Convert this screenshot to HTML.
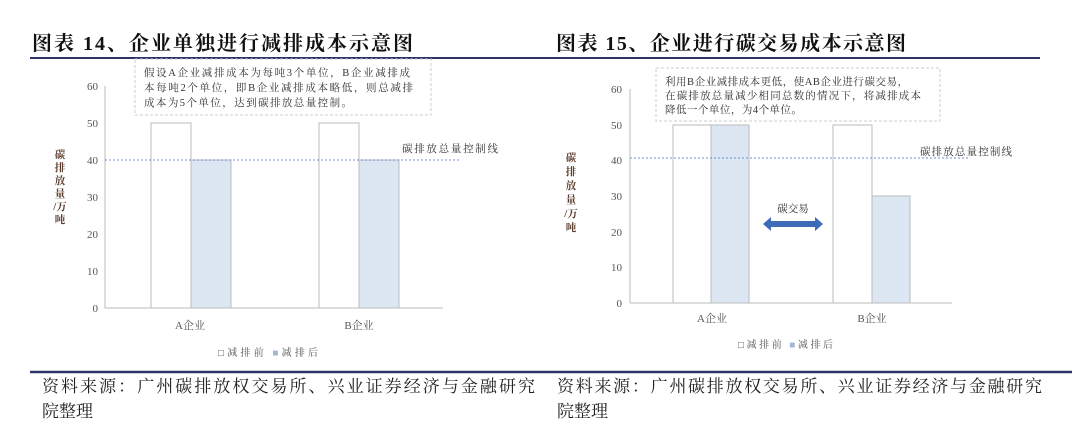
<!DOCTYPE html>
<html><head><meta charset="utf-8"><style>
body{margin:0;background:#fff;}
svg text{font-family:"Liberation Serif","Noto Serif CJK SC",serif;}
</style></head><body>
<svg width="1080" height="441" viewBox="0 0 1080 441" xmlns="http://www.w3.org/2000/svg">
<g font-weight="bold" font-size="20" fill="#111">
<text x="32" y="50" textLength="381" lengthAdjust="spacing">图表 14、企业单独进行减排成本示意图</text>
<text x="556" y="50" textLength="350" lengthAdjust="spacing">图表 15、企业进行碳交易成本示意图</text>
</g>
<line x1="30" y1="58" x2="1040" y2="58" stroke="#2e3468" stroke-width="2"/>
<line x1="30" y1="372" x2="1072" y2="372" stroke="#2e3468" stroke-width="2.5"/>
<g font-size="17" fill="#222">
<text x="42" y="392" textLength="493" lengthAdjust="spacing">资料来源：广州碳排放权交易所、兴业证券经济与金融研究</text>
<text x="42" y="417">院整理</text>
<text x="557" y="392" textLength="485" lengthAdjust="spacing">资料来源：广州碳排放权交易所、兴业证券经济与金融研究</text>
<text x="557" y="417">院整理</text>
</g>
<!-- left chart -->
<g font-size="11" fill="#555">
<line x1="105" y1="86" x2="105" y2="308" stroke="#bbb"/>
<line x1="105" y1="308" x2="443" y2="308" stroke="#bbb"/>
<g text-anchor="end">
<text x="98" y="312">0</text><text x="98" y="275">10</text><text x="98" y="238">20</text>
<text x="98" y="201">30</text><text x="98" y="164">40</text><text x="98" y="127">50</text><text x="98" y="90">60</text>
</g>
<rect x="151" y="123" width="40" height="185" fill="#fff" stroke="#bbb"/>
<rect x="191" y="160" width="40" height="148" fill="#dce7f3" stroke="#bbb"/>
<rect x="319" y="123" width="40" height="185" fill="#fff" stroke="#bbb"/>
<rect x="359" y="160" width="40" height="148" fill="#dce7f3" stroke="#bbb"/>
<line x1="105" y1="160" x2="459" y2="160" stroke="#6f8fd0" stroke-dasharray="2,2"/>
<text x="402" y="152" font-size="10.5" fill="#333" textLength="96" lengthAdjust="spacing">碳排放总量控制线</text>
<rect x="135" y="59" width="296" height="56" fill="none" stroke="#ccc" stroke-dasharray="3,2"/>
<g font-size="10.5" fill="#333">
<text x="144" y="76" textLength="266" lengthAdjust="spacing">假设A企业减排成本为每吨3个单位，B企业减排成</text>
<text x="144" y="91" textLength="269" lengthAdjust="spacing">本每吨2个单位，即B企业减排成本略低，则总减排</text>
<text x="144" y="106" textLength="208" lengthAdjust="spacing">成本为5个单位，达到碳排放总量控制。</text>
</g>
<g font-size="10.5" fill="#5a3a2a" text-anchor="middle" font-weight="bold">
<text x="60" y="158">碳</text><text x="60" y="171">排</text><text x="60" y="184">放</text><text x="60" y="197">量</text><text x="60" y="210">/万</text><text x="60" y="223">吨</text>
</g>
<text x="190" y="329" text-anchor="middle">A企业</text>
<text x="359" y="329" text-anchor="middle">B企业</text>
<text x="218" y="356" font-size="10" textLength="100" lengthAdjust="spacing">□减排前 <tspan fill="#9fb7d6">■</tspan>减排后</text>
</g>
<!-- right chart -->
<g font-size="11" fill="#555">
<line x1="630" y1="89" x2="630" y2="303" stroke="#bbb"/>
<line x1="630" y1="303" x2="952" y2="303" stroke="#bbb"/>
<g text-anchor="end">
<text x="622" y="307">0</text><text x="622" y="271">10</text><text x="622" y="236">20</text>
<text x="622" y="200">30</text><text x="622" y="164">40</text><text x="622" y="129">50</text><text x="622" y="93">60</text>
</g>
<rect x="673" y="125" width="38" height="178" fill="#fff" stroke="#bbb"/>
<rect x="711" y="125" width="38" height="178" fill="#dce7f3" stroke="#bbb"/>
<rect x="833" y="125" width="39" height="178" fill="#fff" stroke="#bbb"/>
<rect x="872" y="196" width="38" height="107" fill="#dce7f3" stroke="#bbb"/>
<line x1="630" y1="158" x2="970" y2="158" stroke="#6f8fd0" stroke-dasharray="2,2"/>
<text x="920" y="155" font-size="10.5" fill="#333" textLength="92" lengthAdjust="spacing">碳排放总量控制线</text>
<rect x="656" y="68" width="284" height="53" fill="none" stroke="#ccc" stroke-dasharray="3,2"/>
<g font-size="10.5" fill="#333">
<text x="665" y="85" textLength="243" lengthAdjust="spacing">利用B企业减排成本更低，使AB企业进行碳交易，</text>
<text x="665" y="99" textLength="256" lengthAdjust="spacing">在碳排放总量减少相同总数的情况下，将减排成本</text>
<text x="665" y="113" textLength="137" lengthAdjust="spacing">降低一个单位，为4个单位。</text>
</g>
<text x="793" y="212" font-size="10.5" fill="#333" text-anchor="middle">碳交易</text>
<path d="M763 224 L771 217 L771 221 L815 221 L815 217 L823 224 L815 231 L815 227 L771 227 L771 231 Z" fill="#3d6bb5"/>
<g font-size="10.5" fill="#5a3a2a" text-anchor="middle" font-weight="bold">
<text x="571" y="161">碳</text><text x="571" y="175">排</text><text x="571" y="189">放</text><text x="571" y="203">量</text><text x="571" y="217">/万</text><text x="571" y="231">吨</text>
</g>
<text x="712" y="322" text-anchor="middle">A企业</text>
<text x="872" y="322" text-anchor="middle">B企业</text>
<text x="738" y="348" font-size="10" textLength="95" lengthAdjust="spacing">□减排前 <tspan fill="#9fb7d6">■</tspan>减排后</text>
</g>
</svg>
</body></html>
